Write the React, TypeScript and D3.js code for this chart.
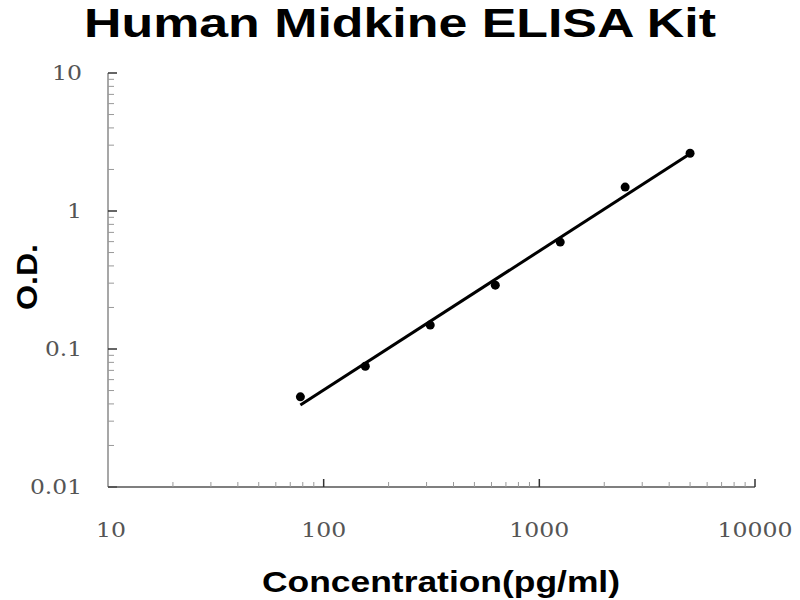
import React, { useRef, useEffect } from "react";
import * as d3 from "d3";

const concentrations = [78, 156, 312, 625, 1250, 2500, 5000];
const odValues = [0.045, 0.075, 0.149, 0.29, 0.595, 1.49, 2.62];
const xTickLabels = ["10", "100", "1000", "10000"];
const yTickLabels = ["0.01", "0.1", "1", "10"];
const xTickValues = [10, 100, 1000, 10000];
const yTickValues = [0.01, 0.1, 1, 10];

// stretched serif digits, like the source image
const labelWidth = (s: string) => s.replace(/\./g, "").length * 15 + (s.includes(".") ? 7 : 0);

export default function App() {
  const svgRef = useRef<SVGSVGElement>(null);

  useEffect(() => {
    const svg = d3.select(svgRef.current);
    svg.selectAll("*").remove();

    const left = 108, right = 755, top = 73, bottom = 487;

    const x = d3.scaleLog().domain([10, 10000]).range([left, right]);
    const y = d3.scaleLog().domain([0.01, 10]).range([bottom, top]);

    // title
    svg.append("text")
      .attr("x", 400).attr("y", 37)
      .attr("text-anchor", "middle")
      .attr("font-family", "Liberation Sans, Arial, sans-serif")
      .attr("font-weight", "bold")
      .attr("font-size", 40)
      .attr("textLength", 632)
      .attr("lengthAdjust", "spacingAndGlyphs")
      .text("Human Midkine ELISA Kit");

    // minor ticks (2..9 of each decade)
    const minorX: number[] = [];
    [10, 100, 1000].forEach(d => { for (let k = 2; k <= 9; k++) minorX.push(d * k); });
    const minorY: number[] = [];
    [0.01, 0.1, 1].forEach(d => { for (let k = 2; k <= 9; k++) minorY.push(d * k); });

    const serif = "DejaVu Serif, serif";

    // y axis
    svg.append("line")
      .attr("x1", left).attr("x2", left).attr("y1", top).attr("y2", bottom)
      .attr("stroke", "#8a8a8a").attr("stroke-width", 1.5);
    svg.selectAll(".ymin").data(minorY).enter().append("line")
      .attr("x1", left).attr("x2", left + 6)
      .attr("y1", d => y(d)).attr("y2", d => y(d))
      .attr("stroke", "#999").attr("stroke-width", 1);
    svg.selectAll(".ymaj").data(yTickValues).enter().append("line")
      .attr("x1", left).attr("x2", left + 9)
      .attr("y1", d => y(d)).attr("y2", d => y(d))
      .attr("stroke", "#333").attr("stroke-width", 1.5);
    svg.selectAll(".ylab").data(yTickValues).enter().append("text")
      .attr("x", 82).attr("y", d => y(d))
      .attr("dy", "0.36em")
      .attr("text-anchor", "end")
      .attr("font-family", serif)
      .attr("font-size", 20)
      .attr("fill", "#555")
      .attr("textLength", (d, i) => labelWidth(yTickLabels[i]))
      .attr("lengthAdjust", "spacingAndGlyphs")
      .text((d, i) => yTickLabels[i]);

    // x axis
    svg.append("line")
      .attr("x1", left).attr("x2", right).attr("y1", bottom).attr("y2", bottom)
      .attr("stroke", "#555").attr("stroke-width", 1.5);
    svg.selectAll(".xmin").data(minorX).enter().append("line")
      .attr("x1", d => x(d)).attr("x2", d => x(d))
      .attr("y1", bottom).attr("y2", bottom - 5)
      .attr("stroke", "#999").attr("stroke-width", 1);
    svg.selectAll(".xmaj").data(xTickValues.slice(1)).enter().append("line")
      .attr("x1", d => x(d)).attr("x2", d => x(d))
      .attr("y1", bottom).attr("y2", bottom - 8)
      .attr("stroke", "#333").attr("stroke-width", 1.5);
    svg.selectAll(".xlab").data(xTickValues).enter().append("text")
      .attr("x", d => x(d) + (d === 10 ? 3 : 0)).attr("y", 530)
      .attr("dy", "0.36em")
      .attr("text-anchor", "middle")
      .attr("font-family", serif)
      .attr("font-size", 20)
      .attr("fill", "#555")
      .attr("textLength", (d, i) => labelWidth(xTickLabels[i]))
      .attr("lengthAdjust", "spacingAndGlyphs")
      .text((d, i) => xTickLabels[i]);

    // axis titles
    svg.append("text")
      .attr("transform", "translate(37,277) rotate(-90)")
      .attr("text-anchor", "middle")
      .attr("font-family", "Liberation Sans, Arial, sans-serif")
      .attr("font-weight", "bold")
      .attr("font-size", 30)
      .attr("textLength", 66)
      .attr("lengthAdjust", "spacingAndGlyphs")
      .text("O.D.");
    svg.append("text")
      .attr("x", 441).attr("y", 592)
      .attr("text-anchor", "middle")
      .attr("font-family", "Liberation Sans, Arial, sans-serif")
      .attr("font-weight", "bold")
      .attr("font-size", 30)
      .attr("textLength", 358)
      .attr("lengthAdjust", "spacingAndGlyphs")
      .text("Concentration(pg/ml)");

    // power fit in log-log space
    const lx = concentrations.map(Math.log10);
    const ly = odValues.map(Math.log10);
    const mx = d3.mean(lx)!, my = d3.mean(ly)!;
    const slope = d3.sum(lx.map((v, i) => (v - mx) * (ly[i] - my))) / d3.sum(lx.map(v => (v - mx) ** 2));
    const intercept = my - slope * mx;
    const fit = (c: number) => Math.pow(10, intercept + slope * Math.log10(c));
    const ext = d3.extent(concentrations) as [number, number];

    svg.append("path")
      .datum(ext)
      .attr("d", d3.line<number>().x(d => x(d)).y(d => y(fit(d))))
      .attr("fill", "none")
      .attr("stroke", "#000")
      .attr("stroke-width", 3);

    svg.selectAll(".dot").data(concentrations).enter().append("circle")
      .attr("cx", d => x(d))
      .attr("cy", (d, i) => y(odValues[i]))
      .attr("r", 4.5)
      .attr("fill", "#000");
  }, []);

  return (
    <svg ref={svgRef} width={800} height={600}
      style={{ position: "absolute", left: 0, top: 0, background: "#fff" }} />
  );
}
